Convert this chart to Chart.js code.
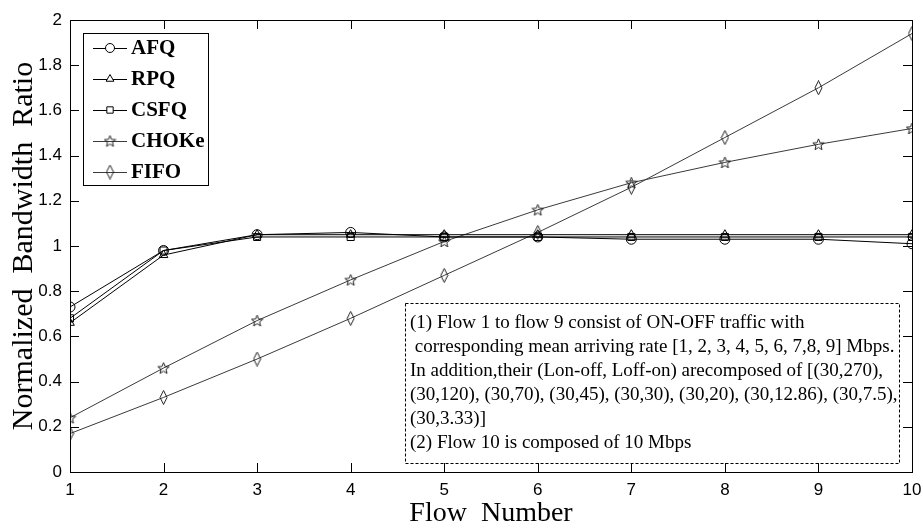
<!DOCTYPE html>
<html>
<head>
<meta charset="utf-8">
<script src="https://cdn.jsdelivr.net/npm/chart.js@4.4.0/dist/chart.umd.min.js"></script>
<style>
  html, body { margin: 0; padding: 0; background: #fff; }
  #wrap { width: 923px; height: 530px; }
</style>
</head>
<body>
<div id="wrap"><canvas id="c" width="923" height="530"></canvas></div>
<script>
// --- data ---
const flows = [1, 2, 3, 4, 5, 6, 7, 8, 9, 10];
const afq   = [0.73, 0.98, 1.05, 1.06, 1.04, 1.04, 1.03, 1.03, 1.03, 1.01];
const rpq   = [0.66, 0.96, 1.05, 1.05, 1.05, 1.05, 1.05, 1.05, 1.05, 1.05];
const csfq  = [0.68, 0.98, 1.04, 1.04, 1.04, 1.04, 1.04, 1.04, 1.04, 1.04];
const choke = [0.24, 0.46, 0.67, 0.85, 1.02, 1.16, 1.28, 1.37, 1.45, 1.52];
const fifo  = [0.17, 0.33, 0.50, 0.68, 0.87, 1.06, 1.26, 1.48, 1.70, 1.94];
const yTicks = [0, 0.2, 0.4, 0.6, 0.8, 1, 1.2, 1.4, 1.6, 1.8, 2];

const noteLines = [
    '(1) Flow 1 to flow 9 consist of ON-OFF traffic with',
    ' corresponding mean arriving rate [1, 2, 3, 4, 5, 6, 7,8, 9] Mbps.',
    'In addition,their (Lon-off, Loff-on) arecomposed of [(30,270),',
    '(30,120), (30,70), (30,45), (30,30), (30,20), (30,12.86), (30,7.5),',
    '(30,3.33)]',
    '(2) Flow 10 is composed of 10 Mbps'
];

const serif = '"Liberation Serif", "Times New Roman", serif';
const sans = '"Liberation Sans", Arial, sans-serif';

// hollow marker images (matlab pentagram and tall diamond)
const makeMarker = (w, h, drawFn) => {
    const cv = document.createElement('canvas');
    cv.width = w; cv.height = h;
    const c = cv.getContext('2d');
    c.strokeStyle = '#222';
    c.lineWidth = 1;
    c.beginPath();
    drawFn(c, w, h);
    c.closePath();
    c.stroke();
    return cv;
};

const starImg = makeMarker(13, 13, (c, w, h) => {
    const cx = w / 2, cy = h / 2 + 0.5, ro = 6, ri = 2.6;
    for (let i = 0; i < 10; i++) {
        const r = i % 2 === 0 ? ro : ri;
        const ang = -Math.PI / 2 + i * Math.PI / 5;
        const px = cx + r * Math.cos(ang), py = cy + r * Math.sin(ang);
        if (i === 0) c.moveTo(px, py); else c.lineTo(px, py);
    }
});

const diamondImg = makeMarker(9, 15, (c, w, h) => {
    c.moveTo(w / 2, 0.5);
    c.lineTo(w - 1, h / 2);
    c.lineTo(w / 2, h - 0.5);
    c.lineTo(1, h / 2);
});

const series = [
    { label: 'AFQ', data: afq, style: 'circle', color: '#000' },
    { label: 'RPQ', data: rpq, style: 'triangle', color: '#000' },
    { label: 'CSFQ', data: csfq, style: 'rect', color: '#000' },
    { label: 'CHOKe', data: choke, style: starImg, color: '#3a3a3a' },
    { label: 'FIFO', data: fifo, style: diamondImg, color: '#3a3a3a' }
];

const toPoints = (arr) => arr.map((v, i) => ({ x: flows[i], y: v }));

// box, inward ticks, legend and the note box (matlab look)
const matlabBox = {
    id: 'matlabBox',
    afterDraw(chart) {
        const ctx = chart.ctx;
        const a = chart.chartArea;
        const xs = chart.scales.x, ys = chart.scales.y;
        ctx.save();
        ctx.strokeStyle = '#000';
        ctx.lineWidth = 1;
        ctx.strokeRect(a.left + 0.5, a.top + 0.5, a.right - a.left, a.bottom - a.top);
        ctx.beginPath();
        flows.forEach(f => {
            const px = Math.round(xs.getPixelForValue(f)) + 0.5;
            ctx.moveTo(px, a.bottom); ctx.lineTo(px, a.bottom - 9);
            ctx.moveTo(px, a.top); ctx.lineTo(px, a.top + 9);
        });
        yTicks.forEach(t => {
            const py = Math.round(ys.getPixelForValue(t)) + 0.5;
            ctx.moveTo(a.left, py); ctx.lineTo(a.left + 9, py);
            ctx.moveTo(a.right, py); ctx.lineTo(a.right - 9, py);
        });
        ctx.stroke();

        // legend
        const lx = 83, ly = 33, lw = 125, lh = 152;
        ctx.fillStyle = '#fff';
        ctx.fillRect(lx, ly, lw, lh);
        ctx.strokeRect(lx + 0.5, ly + 0.5, lw, lh);
        ctx.font = 'bold 21px ' + serif;
        ctx.textBaseline = 'middle';
        series.forEach((s, i) => {
            const cy = ly + 15 + i * 31;
            ctx.strokeStyle = s.color;
            ctx.beginPath();
            ctx.moveTo(lx + 10, cy + 0.5); ctx.lineTo(lx + 44, cy + 0.5);
            ctx.stroke();
            ctx.fillStyle = '#fff';
            Chart.helpers.drawPoint(ctx, { pointStyle: s.style, radius: 4.5, borderWidth: 1 }, lx + 27, cy);
            ctx.fillStyle = '#000';
            ctx.fillText(s.label, lx + 48, cy + 1);
        });

        // note box
        const nx = 405, ny = 303, nw = 494, nh = 160;
        ctx.fillStyle = '#fff';
        ctx.fillRect(nx, ny, nw, nh);
        ctx.setLineDash([3, 2]);
        ctx.strokeStyle = '#000';
        ctx.strokeRect(nx + 0.5, ny + 0.5, nw, nh);
        ctx.setLineDash([]);
        ctx.fillStyle = '#000';
        ctx.font = '19px ' + serif;
        noteLines.forEach((t, i) => {
            ctx.fillText(t, nx + 5, ny + 20 + i * 24);
        });
        ctx.restore();
    }
};

new Chart(document.getElementById('c'), {
    type: 'line',
    data: {
        datasets: series.map(s => ({
            label: s.label,
            data: toPoints(s.data),
            borderColor: s.color,
            backgroundColor: 'rgba(0,0,0,0)',
            borderWidth: 1,
            pointStyle: s.style,
            pointRadius: 5,
            pointBorderWidth: 1,
            pointBorderColor: s.color,
            pointBackgroundColor: 'rgba(0,0,0,0)',
            tension: 0
        }))
    },
    options: {
        responsive: false,
        animation: false,
        layout: { padding: { left: 6, right: 11, top: 20, bottom: 0 } },
        plugins: {
            legend: { display: false },
            tooltip: { enabled: false }
        },
        scales: {
            x: {
                type: 'linear',
                min: 1, max: 10,
                afterFit: (scale) => { scale.height = 58; scale.paddingRight = 0; scale.paddingLeft = 0; },
                grid: { display: false, drawTicks: false },
                border: { display: false },
                ticks: { stepSize: 1, color: '#000', padding: 8, font: { family: sans, size: 17 } },
                title: { display: true, text: 'Flow  Number', color: '#000', padding: { top: 3, bottom: 0 }, font: { family: serif, size: 28 } }
            },
            y: {
                min: 0, max: 2,
                afterFit: (scale) => { scale.width = 64; scale.paddingTop = 0; scale.paddingBottom = 0; },
                afterBuildTicks: (scale) => { scale.ticks = yTicks.map(v => ({ value: v })); },
                grid: { display: false, drawTicks: false },
                border: { display: false },
                ticks: {
                    color: '#000', padding: 8, font: { family: sans, size: 17 },
                    callback: (v) => String(Number(v.toFixed(1)))
                },
                title: { display: true, text: 'Normalized  Bandwidth  Ratio', color: '#000', padding: { top: 0, bottom: 2 }, font: { family: serif, size: 30 } }
            }
        }
    },
    plugins: [matlabBox]
});
</script>
</body>
</html>
